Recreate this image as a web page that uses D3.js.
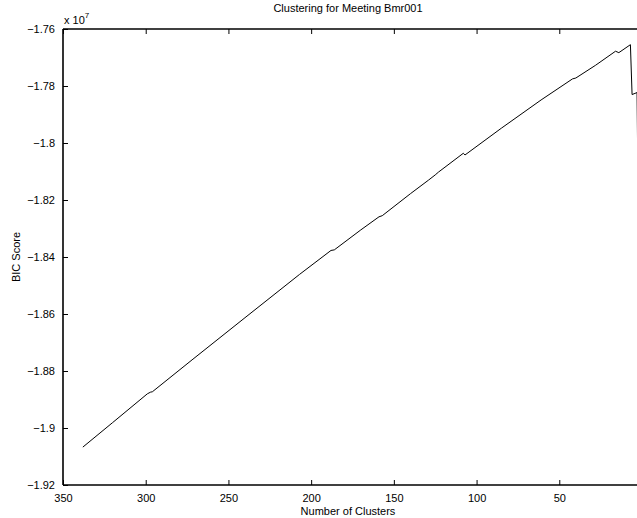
<!DOCTYPE html>
<html>
<head>
<meta charset="utf-8">
<script src="https://cdn.jsdelivr.net/npm/d3@7"></script>
<style>
  html, body { margin: 0; padding: 0; background: #fff; }
  svg { display: block; }
  text { font-family: "Liberation Sans", Arial, Helvetica, sans-serif; fill: #000; }
</style>
</head>
<body>
<svg id="chart" width="637" height="518"></svg>
<script>
// Number of clusters (x) and BIC score in units of 1e7 (y)
const clusters = [338, 320, 299, 297, 296, 272, 240, 207, 188, 186, 170, 159, 157, 140, 129, 125, 123, 108, 107, 85, 61, 42, 40, 28, 16, 14, 7, 6, 3, 2];
const bicScore = [-1.9067, -1.8981, -1.8880, -1.8874, -1.8873, -1.8761, -1.8613, -1.8461, -1.8377, -1.8375, -1.8305, -1.8259, -1.8255, -1.8178, -1.8130, -1.8112, -1.8102, -1.8036, -1.8042, -1.7948, -1.7849, -1.7775, -1.7772, -1.7727, -1.7678, -1.7683, -1.7655, -1.7830, -1.7823, -1.8400];
const xTicks = [350, 300, 250, 200, 150, 100, 50];
const yTicks = [-1.76, -1.78, -1.80, -1.82, -1.84, -1.86, -1.88, -1.90, -1.92];
const yTickLabels = ["−1.76", "−1.78", "−1.8", "−1.82", "−1.84", "−1.86", "−1.88", "−1.9", "−1.92"];
const titleText = "Clustering for Meeting Bmr001";
const xLabel = "Number of Clusters";
const yLabel = "BIC Score";

const svg = d3.select("#chart");
const m = { left: 63, top: 29, right: 642, bottom: 485 };

const x = d3.scaleLinear().domain([350, 0]).range([m.left, m.right]);
const y = d3.scaleLinear().domain([-1.92, -1.76]).range([m.bottom, m.top]);

svg.append("defs").append("clipPath").attr("id", "clip")
  .append("rect").attr("x", m.left).attr("y", m.top)
  .attr("width", m.right - m.left).attr("height", m.bottom - m.top);

// data line
const pts = clusters.map((c, i) => [c, bicScore[i]]);
svg.append("path")
  .datum(pts)
  .attr("clip-path", "url(#clip)")
  .attr("fill", "none")
  .attr("stroke", "#000")
  .attr("stroke-width", 1)
  .attr("d", d3.line().x(d => x(d[0])).y(d => y(d[1])));

// bottom axis (ticks inward)
const xAxis = d3.axisBottom(x).tickValues(xTicks).tickSize(-5).tickPadding(9).tickFormat(d3.format("d"));
const gx = svg.append("g").attr("transform", `translate(0,${m.bottom})`).call(xAxis);
// top axis
const gxt = svg.append("g").attr("transform", `translate(0,${m.top})`)
  .call(d3.axisTop(x).tickValues(xTicks).tickSize(-5).tickFormat(""));
// left axis
const yAxis = d3.axisLeft(y).tickValues(yTicks).tickSize(-5).tickPadding(9)
  .tickFormat((d, i) => yTickLabels[i]);
const gy = svg.append("g").attr("transform", `translate(${m.left},0)`).call(yAxis);

[gx, gxt, gy].forEach(g => {
  g.select(".domain").attr("stroke", "#000").attr("stroke-width", 1.6);
  g.selectAll(".tick line").attr("stroke", "#000").attr("stroke-width", 1);
  g.selectAll("text").style("font-family", '"Liberation Sans", Arial, sans-serif').style("font-size", "11px").attr("fill", "#000");
});
gy.selectAll(".tick text").attr("dx", "1");
gx.select(".domain").attr("d", `M${m.left},0H${m.right}`);
gxt.select(".domain").attr("d", `M${m.left},0H${m.right}`);
gy.select(".domain").attr("d", `M0,${m.top}V${m.bottom}`);

// exponent label
const ex = svg.append("text").attr("x", 64).attr("y", 24).style("font-size", "11px");
ex.append("tspan").text("x 10");
ex.append("tspan").attr("dy", -6).style("font-size", "8px").text("7");

// title
svg.append("text").attr("x", 348).attr("y", 12).attr("text-anchor", "middle")
  .style("font-size", "11px").text(titleText);
// x label
svg.append("text").attr("x", 348).attr("y", 515).attr("text-anchor", "middle")
  .style("font-size", "11px").text(xLabel);
// y label
svg.append("text").attr("transform", "translate(20,257) rotate(-90)").attr("text-anchor", "middle")
  .style("font-size", "11px").text(yLabel);
</script>
</body>
</html>
